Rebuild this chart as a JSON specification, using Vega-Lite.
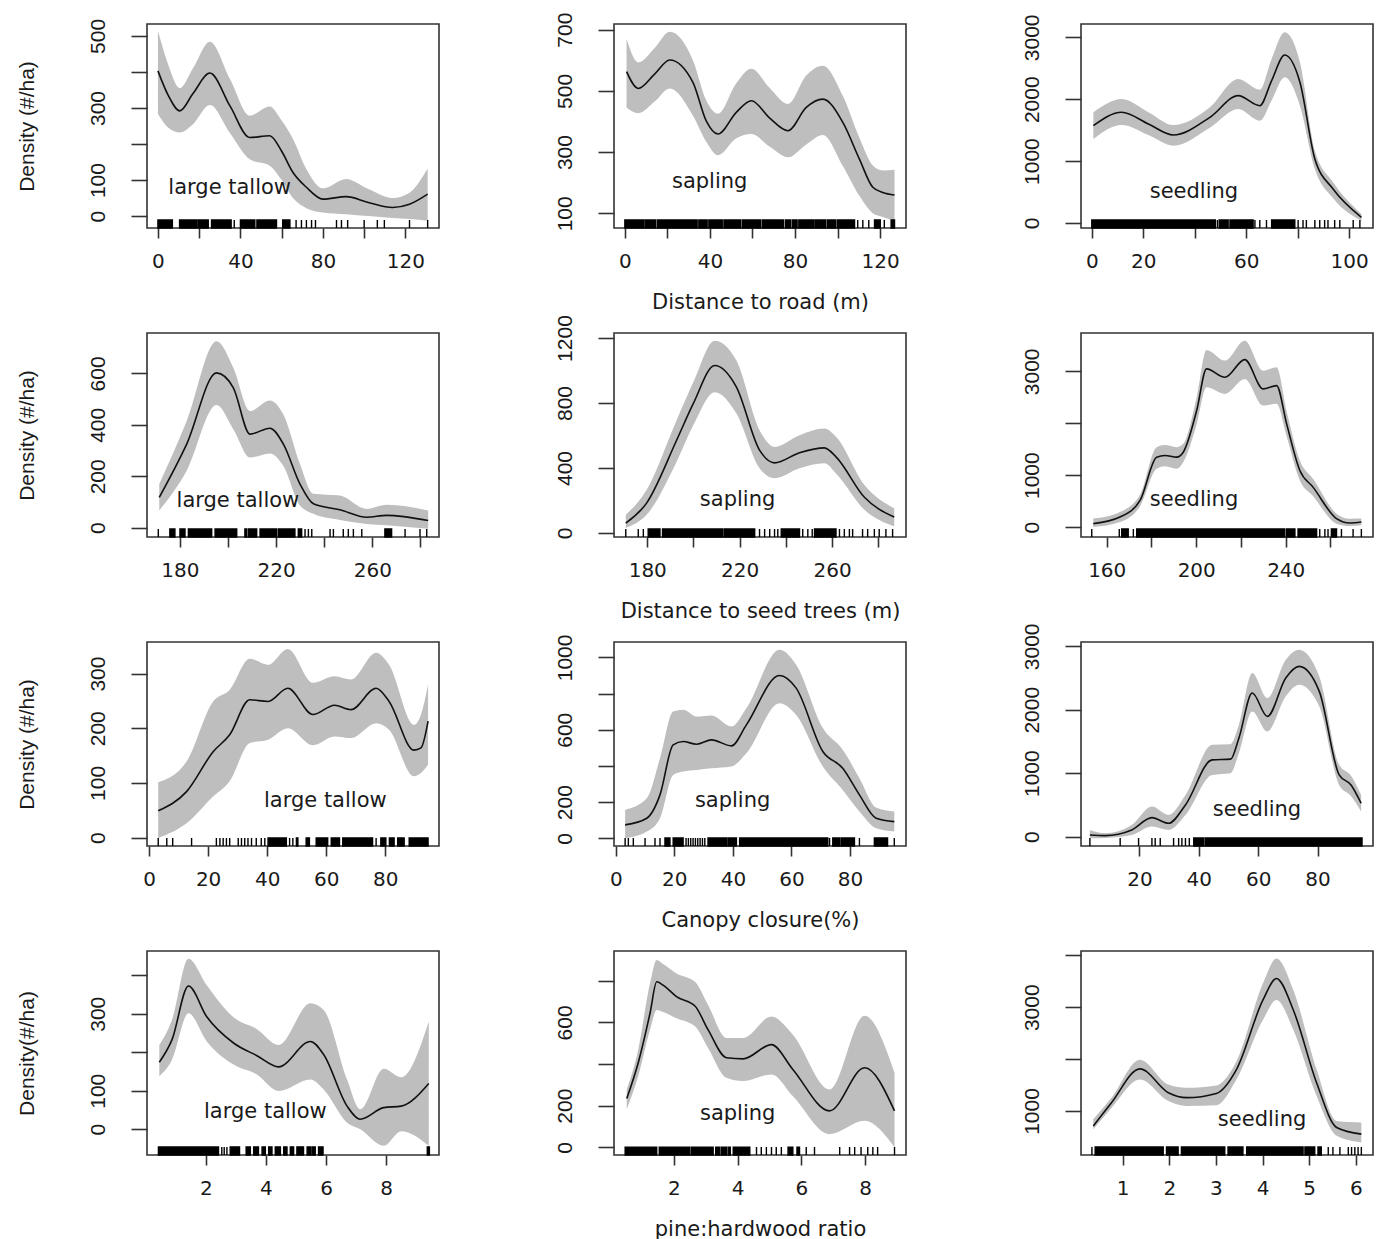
{
"$schema": "https://vega.github.io/schema/vega-lite/v6.json",
"background": "white",
"padding": {"left": 15, "top": 11, "right": 5, "bottom": 0},
"columns": 3,
"spacing": {"row": 105, "column": 175},
"bounds": "flush",
"config": {
  "numberFormat": "d",
  "view": {"stroke": "#333333", "strokeWidth": 1.6},
  "axis": {"grid": false, "domain": false, "tickColor": "#333333", "tickWidth": 1.6, "labelColor": "#1a1a1a", "titleColor": "#1a1a1a", "labelOverlap": false, "labelFlush": false, "labelBound": false},
  "axisX": {"tickSize": 10, "labelFont": "DejaVu Sans", "labelFontSize": 20, "labelPadding": 13, "titleFont": "DejaVu Sans", "titleFontSize": 21, "titleFontWeight": "normal", "titlePadding": 20},
  "axisY": {"tickSize": 16, "labelFont": "Liberation Sans Narrow, Liberation Sans, sans-serif", "labelFontSize": 21, "labelAngle": 270, "labelAlign": "center", "labelBaseline": "bottom", "labelPadding": 23, "titleFont": "Liberation Sans Narrow, Liberation Sans, sans-serif", "titleFontSize": 21, "titleFontWeight": "normal", "titlePadding": 50}
},
"concat": [
{
 "width": 292, "height": 204,
 "data": {"values": [{"x":0,"f":403,"lo":283,"hi":514},{"x":5,"f":335,"lo":245,"hi":420},{"x":10.6,"f":292,"lo":232,"hi":355},{"x":17,"f":340,"lo":255,"hi":410},{"x":25.2,"f":397,"lo":308,"hi":484},{"x":35,"f":305,"lo":230,"hi":380},{"x":44.5,"f":218,"lo":158,"hi":279},{"x":54.2,"f":223,"lo":140,"hi":304},{"x":60,"f":180,"lo":100,"hi":265},{"x":65.5,"f":121,"lo":50,"hi":214},{"x":72,"f":80,"lo":22,"hi":130},{"x":80,"f":47,"lo":10,"hi":77},{"x":91.3,"f":54,"lo":5,"hi":103},{"x":102,"f":38,"lo":0,"hi":75},{"x":113.8,"f":24,"lo":-5,"hi":50},{"x":122,"f":33,"lo":-8,"hi":65},{"x":130.8,"f":61,"lo":-13,"hi":132}]},
 "layer": [
  {"mark": {"type": "area", "color": "#bebebe", "interpolate": "monotone", "clip": true},
   "encoding": {
    "x": {"field": "x", "type": "quantitative", "scale": {"domain": [-5.3, 136.3], "nice": false, "zero": false}, "axis": {"values": [0,20,40,60,80,100,120], "labelExpr": "indexof([0,40,80,120], datum.value) >= 0 ? datum.label : ''", "title": null}},
    "y": {"field": "lo", "type": "quantitative", "scale": {"domain": [-33, 533], "nice": false, "zero": false}, "axis": {"values": [0,100,200,300,400,500], "labelExpr": "indexof([0,100,300,500], datum.value) >= 0 ? datum.label : ''", "title": "Density (#/ha)"}},
    "y2": {"field": "hi"}}},
  {"mark": {"type": "line", "color": "#111111", "strokeWidth": 1.6, "interpolate": "monotone", "clip": true},
   "encoding": {"x": {"field": "x", "type": "quantitative"}, "y": {"field": "f", "type": "quantitative"}}},
  {"data": {"values": [{"a":0,"b":7},{"a":10.5,"b":19},{"a":19.6,"b":24.4},{"a":26,"b":35.5},{"a":37,"b":37},{"a":40,"b":47},{"a":48,"b":57.5},{"a":60.5,"b":64},{"a":67,"b":67},{"a":69.6,"b":69.6},{"a":72,"b":72},{"a":74.5,"b":74.5},{"a":76.4,"b":76.4},{"a":86.6,"b":86.6},{"a":89,"b":89},{"a":92,"b":92},{"a":100,"b":100},{"a":106.4,"b":106.4},{"a":109.8,"b":109.8},{"a":122,"b":122},{"a":130.8,"b":130.8}]},
   "mark": {"type": "rect", "color": "#000000", "stroke": "#000000", "strokeWidth": 1.4},
   "encoding": {"x": {"field": "a", "type": "quantitative"}, "x2": {"field": "b"}, "y": {"datum": -33}, "y2": {"datum": -11}}},
  {"data": {"values": [{}]}, "mark": {"type": "text", "font": "DejaVu Sans", "fontSize": 21, "color": "#1a1a1a"},
   "encoding": {"x": {"datum": 34.8}, "y": {"datum": 78}, "text": {"value": "large tallow"}}}
 ]
},
{
 "width": 292, "height": 204,
 "data": {"values": [{"x":0.8,"f":563,"lo":446,"hi":670},{"x":6.3,"f":508,"lo":427,"hi":593},{"x":14,"f":555,"lo":465,"hi":640},{"x":21.1,"f":601,"lo":508,"hi":693},{"x":32,"f":528,"lo":420,"hi":600},{"x":38.2,"f":403,"lo":335,"hi":470},{"x":43.8,"f":359,"lo":290,"hi":425},{"x":52.4,"f":430,"lo":345,"hi":525},{"x":59.5,"f":468,"lo":359,"hi":572},{"x":68,"f":412,"lo":318,"hi":510},{"x":76.7,"f":370,"lo":283,"hi":457},{"x":85.3,"f":446,"lo":325,"hi":550},{"x":93.1,"f":473,"lo":356,"hi":582},{"x":102.5,"f":397,"lo":255,"hi":484},{"x":110.3,"f":277,"lo":157,"hi":347},{"x":116.6,"f":185,"lo":100,"hi":256},{"x":121.3,"f":168,"lo":88,"hi":240},{"x":126.8,"f":160,"lo":76,"hi":242}]},
 "layer": [
  {"mark": {"type": "area", "color": "#bebebe", "interpolate": "monotone", "clip": true},
   "encoding": {
    "x": {"field": "x", "type": "quantitative", "scale": {"domain": [-5.1, 132.2], "nice": false, "zero": false}, "axis": {"values": [0,20,40,60,80,100,120], "labelExpr": "indexof([0,40,80,120], datum.value) >= 0 ? datum.label : ''", "title": "Distance to road (m)"}},
    "y": {"field": "lo", "type": "quantitative", "scale": {"domain": [52, 718.6], "nice": false, "zero": false}, "axis": {"values": [100,200,300,400,500,600,700], "labelExpr": "indexof([100,300,500,700], datum.value) >= 0 ? datum.label : ''", "title": null}},
    "y2": {"field": "hi"}}},
  {"mark": {"type": "line", "color": "#111111", "strokeWidth": 1.6, "interpolate": "monotone", "clip": true},
   "encoding": {"x": {"field": "x", "type": "quantitative"}, "y": {"field": "f", "type": "quantitative"}}},
  {"data": {"values": [{"a":0,"b":9},{"a":9.6,"b":14.5},{"a":15.3,"b":34},{"a":34.8,"b":38.7},{"a":39.5,"b":45.8},{"a":46.6,"b":54.4},{"a":55.2,"b":63.8},{"a":64.6,"b":74.6},{"a":75.5,"b":77.9},{"a":78.7,"b":81},{"a":81.8,"b":89},{"a":89.7,"b":94.3},{"a":95.1,"b":99},{"a":99.8,"b":108},{"a":109.5,"b":109.5},{"a":111.9,"b":111.9},{"a":114.7,"b":114.7},{"a":117.4,"b":120.1},{"a":122,"b":122},{"a":125.2,"b":126.8}]},
   "mark": {"type": "rect", "color": "#000000", "stroke": "#000000", "strokeWidth": 1.4},
   "encoding": {"x": {"field": "a", "type": "quantitative"}, "x2": {"field": "b"}, "y": {"datum": 52}, "y2": {"datum": 78}}},
  {"data": {"values": [{}]}, "mark": {"type": "text", "font": "DejaVu Sans", "fontSize": 21, "color": "#1a1a1a"},
   "encoding": {"x": {"datum": 39.9}, "y": {"datum": 202}, "text": {"value": "sapling"}}}
 ]
},
{
 "width": 292, "height": 204,
 "data": {"values": [{"x":0.6,"f":1572,"lo":1357,"hi":1788},{"x":11.6,"f":1788,"lo":1583,"hi":2003},{"x":22,"f":1600,"lo":1420,"hi":1790},{"x":31.7,"f":1422,"lo":1249,"hi":1583},{"x":45.9,"f":1707,"lo":1540,"hi":1870},{"x":56.9,"f":2057,"lo":1842,"hi":2326},{"x":65.3,"f":1895,"lo":1653,"hi":2153},{"x":69.9,"f":2300,"lo":1980,"hi":2650},{"x":75,"f":2714,"lo":2354,"hi":3081},{"x":80.9,"f":2273,"lo":1895,"hi":2596},{"x":86.7,"f":1034,"lo":872,"hi":1168},{"x":93.8,"f":549,"lo":399,"hi":657},{"x":104.8,"f":92,"lo":37,"hi":145}]},
 "layer": [
  {"mark": {"type": "area", "color": "#bebebe", "interpolate": "monotone", "clip": true},
   "encoding": {
    "x": {"field": "x", "type": "quantitative", "scale": {"domain": [-4.2, 109.3], "nice": false, "zero": false}, "axis": {"values": [0,20,40,60,80,100], "labelExpr": "indexof([0,20,60,100], datum.value) >= 0 ? datum.label : ''", "title": null}},
    "y": {"field": "lo", "type": "quantitative", "scale": {"domain": [-81, 3215], "nice": false, "zero": false}, "axis": {"values": [0,500,1000,1500,2000,2500,3000], "labelExpr": "indexof([0,1000,2000,3000], datum.value) >= 0 ? datum.label : ''", "title": null}},
    "y2": {"field": "hi"}}},
  {"mark": {"type": "line", "color": "#111111", "strokeWidth": 1.6, "interpolate": "monotone", "clip": true},
   "encoding": {"x": {"field": "x", "type": "quantitative"}, "y": {"field": "f", "type": "quantitative"}}},
  {"data": {"values": [{"a":0,"b":48},{"a":48.8,"b":48.8},{"a":49.5,"b":53},{"a":53.7,"b":62.7},{"a":63.4,"b":63.4},{"a":65.3,"b":65.3},{"a":67.9,"b":67.9},{"a":69.9,"b":78.9},{"a":80.2,"b":80.2},{"a":82.1,"b":82.1},{"a":83.4,"b":83.4},{"a":86.7,"b":86.7},{"a":88.6,"b":88.6},{"a":90.5,"b":90.5},{"a":91.8,"b":91.8},{"a":94.4,"b":94.4},{"a":96.4,"b":96.4},{"a":101.6,"b":101.6},{"a":104.2,"b":104.2}]},
   "mark": {"type": "rect", "color": "#000000", "stroke": "#000000", "strokeWidth": 1.4},
   "encoding": {"x": {"field": "a", "type": "quantitative"}, "x2": {"field": "b"}, "y": {"datum": -81}, "y2": {"datum": 48}}},
  {"data": {"values": [{}]}, "mark": {"type": "text", "font": "DejaVu Sans", "fontSize": 21, "color": "#1a1a1a"},
   "encoding": {"x": {"datum": 39.7}, "y": {"datum": 500}, "text": {"value": "seedling"}}}
 ]
},
{
 "width": 292, "height": 204,
 "data": {"values": [{"x":171.4,"f":118,"lo":67,"hi":170},{"x":182.8,"f":325,"lo":222,"hi":415},{"x":195.2,"f":602,"lo":477,"hi":725},{"x":202.2,"f":544,"lo":383,"hi":622},{"x":209.1,"f":364,"lo":273,"hi":454},{"x":217.4,"f":387,"lo":289,"hi":495},{"x":223,"f":325,"lo":240,"hi":440},{"x":229.9,"f":170,"lo":86,"hi":248},{"x":235.5,"f":93,"lo":54,"hi":132},{"x":246.5,"f":70,"lo":30,"hi":125},{"x":257.6,"f":41,"lo":15,"hi":73},{"x":265.9,"f":48,"lo":10,"hi":89},{"x":283.2,"f":28,"lo":-4,"hi":67}]},
 "layer": [
  {"mark": {"type": "area", "color": "#bebebe", "interpolate": "monotone", "clip": true},
   "encoding": {
    "x": {"field": "x", "type": "quantitative", "scale": {"domain": [166.3, 287.7], "nice": false, "zero": false}, "axis": {"values": [180,200,220,240,260,280], "labelExpr": "indexof([180,220,260], datum.value) >= 0 ? datum.label : ''", "title": null}},
    "y": {"field": "lo", "type": "quantitative", "scale": {"domain": [-36, 757], "nice": false, "zero": false}, "axis": {"values": [0,200,400,600], "title": "Density (#/ha)"}},
    "y2": {"field": "hi"}}},
  {"mark": {"type": "line", "color": "#111111", "strokeWidth": 1.6, "interpolate": "monotone", "clip": true},
   "encoding": {"x": {"field": "x", "type": "quantitative"}, "y": {"field": "f", "type": "quantitative"}}},
  {"data": {"values": [{"a":171,"b":171},{"a":175.8,"b":177.9},{"a":180,"b":182.1},{"a":183.5,"b":193.2},{"a":194.6,"b":203.6},{"a":207,"b":207.7},{"a":208.4,"b":211.9},{"a":213.3,"b":220.2},{"a":220.9,"b":227.8},{"a":229.2,"b":230.6},{"a":232,"b":232},{"a":233.4,"b":233.4},{"a":234.8,"b":234.8},{"a":242.4,"b":242.4},{"a":243.8,"b":243.8},{"a":247.9,"b":247.9},{"a":250,"b":250},{"a":252.1,"b":252.1},{"a":255.6,"b":255.6},{"a":265.2,"b":268},{"a":273.6,"b":273.6},{"a":279.8,"b":279.8},{"a":282.6,"b":282.6}]},
   "mark": {"type": "rect", "color": "#000000", "stroke": "#000000", "strokeWidth": 1.4},
   "encoding": {"x": {"field": "a", "type": "quantitative"}, "x2": {"field": "b"}, "y": {"datum": -36}, "y2": {"datum": -5}}},
  {"data": {"values": [{}]}, "mark": {"type": "text", "font": "DejaVu Sans", "fontSize": 21, "color": "#1a1a1a"},
   "encoding": {"x": {"datum": 204.1}, "y": {"datum": 102}, "text": {"value": "large tallow"}}}
 ]
},
{
 "width": 292, "height": 204,
 "data": {"values": [{"x":170.7,"f":61,"lo":31,"hi":112},{"x":179.7,"f":184,"lo":112,"hi":265},{"x":192.7,"f":571,"lo":438,"hi":694},{"x":199.9,"f":796,"lo":663,"hi":928},{"x":209.2,"f":1031,"lo":867,"hi":1184},{"x":218.6,"f":898,"lo":735,"hi":1061},{"x":228.6,"f":510,"lo":398,"hi":633},{"x":235.1,"f":432,"lo":337,"hi":530},{"x":245.9,"f":494,"lo":398,"hi":602},{"x":256.7,"f":524,"lo":429,"hi":643},{"x":261.7,"f":469,"lo":367,"hi":592},{"x":274,"f":220,"lo":143,"hi":296},{"x":286.9,"f":98,"lo":41,"hi":153}]},
 "layer": [
  {"mark": {"type": "area", "color": "#bebebe", "interpolate": "monotone", "clip": true},
   "encoding": {
    "x": {"field": "x", "type": "quantitative", "scale": {"domain": [165.6, 292], "nice": false, "zero": false}, "axis": {"values": [180,200,220,240,260,280], "labelExpr": "indexof([180,220,260], datum.value) >= 0 ? datum.label : ''", "title": "Distance to seed trees (m)"}},
    "y": {"field": "lo", "type": "quantitative", "scale": {"domain": [-24.5, 1231], "nice": false, "zero": false}, "axis": {"values": [0,200,400,600,800,1000,1200], "labelExpr": "indexof([0,400,800,1200], datum.value) >= 0 ? datum.label : ''", "title": null}},
    "y2": {"field": "hi"}}},
  {"mark": {"type": "line", "color": "#111111", "strokeWidth": 1.6, "interpolate": "monotone", "clip": true},
   "encoding": {"x": {"field": "x", "type": "quantitative"}, "y": {"field": "f", "type": "quantitative"}}},
  {"data": {"values": [{"a":170.7,"b":170.7},{"a":176.1,"b":176.1},{"a":178.3,"b":178.3},{"a":180.4,"b":185.5},{"a":186.6,"b":212.8},{"a":213.5,"b":226.5},{"a":228.6,"b":228.6},{"a":230.8,"b":230.8},{"a":233,"b":233},{"a":235.1,"b":235.1},{"a":236.5,"b":236.5},{"a":238,"b":245.9},{"a":247.3,"b":247.3},{"a":249.5,"b":249.5},{"a":251.4,"b":251.4},{"a":252.4,"b":261.7},{"a":263.2,"b":263.2},{"a":265.3,"b":265.3},{"a":267.5,"b":267.5},{"a":268.9,"b":268.9},{"a":273.2,"b":273.2},{"a":275.4,"b":275.4},{"a":278.3,"b":278.3},{"a":280.4,"b":280.4},{"a":283.3,"b":283.3},{"a":286.2,"b":286.2}]},
   "mark": {"type": "rect", "color": "#000000", "stroke": "#000000", "strokeWidth": 1.4},
   "encoding": {"x": {"field": "a", "type": "quantitative"}, "x2": {"field": "b"}, "y": {"datum": -24.5}, "y2": {"datum": 24.5}}},
  {"data": {"values": [{}]}, "mark": {"type": "text", "font": "DejaVu Sans", "fontSize": 21, "color": "#1a1a1a"},
   "encoding": {"x": {"datum": 219.1}, "y": {"datum": 204}, "text": {"value": "sapling"}}}
 ]
},
{
 "width": 292, "height": 204,
 "data": {"values": [{"x":154,"f":65,"lo":0,"hi":162},{"x":165.9,"f":192,"lo":96,"hi":288},{"x":174.9,"f":513,"lo":400,"hi":620},{"x":182.3,"f":1346,"lo":1122,"hi":1538},{"x":186,"f":1379,"lo":1170,"hi":1580},{"x":191.2,"f":1346,"lo":1122,"hi":1538},{"x":194.2,"f":1442,"lo":1250,"hi":1604},{"x":200.2,"f":2244,"lo":1980,"hi":2500},{"x":204.6,"f":3046,"lo":2692,"hi":3411},{"x":212.8,"f":2885,"lo":2565,"hi":3206},{"x":221.7,"f":3225,"lo":2853,"hi":3590},{"x":229.9,"f":2661,"lo":2340,"hi":3013},{"x":235.9,"f":2725,"lo":2373,"hi":3077},{"x":240.4,"f":1988,"lo":1750,"hi":2230},{"x":246.3,"f":1090,"lo":898,"hi":1283},{"x":252.2,"f":769,"lo":600,"hi":930},{"x":262.7,"f":162,"lo":65,"hi":258},{"x":268.6,"f":77,"lo":20,"hi":160},{"x":273.8,"f":96,"lo":33,"hi":162}]},
 "layer": [
  {"mark": {"type": "area", "color": "#bebebe", "interpolate": "monotone", "clip": true},
   "encoding": {
    "x": {"field": "x", "type": "quantitative", "scale": {"domain": [148.5, 279], "nice": false, "zero": false}, "axis": {"values": [160,180,200,220,240,260], "labelExpr": "indexof([160,200,240], datum.value) >= 0 ? datum.label : ''", "title": null}},
    "y": {"field": "lo", "type": "quantitative", "scale": {"domain": [-192, 3738], "nice": false, "zero": false}, "axis": {"values": [0,1000,2000,3000], "labelExpr": "indexof([0,1000,3000], datum.value) >= 0 ? datum.label : ''", "title": null}},
    "y2": {"field": "hi"}}},
  {"mark": {"type": "line", "color": "#111111", "strokeWidth": 1.6, "interpolate": "monotone", "clip": true},
   "encoding": {"x": {"field": "x", "type": "quantitative"}, "y": {"field": "f", "type": "quantitative"}}},
  {"data": {"values": [{"a":153.3,"b":153.3},{"a":165.6,"b":165.6},{"a":166.7,"b":169.6},{"a":171.9,"b":171.9},{"a":173.4,"b":239.6},{"a":240.4,"b":244.1},{"a":245.5,"b":253.8},{"a":255.2,"b":255.2},{"a":257.5,"b":257.5},{"a":258.9,"b":258.9},{"a":260.4,"b":262.7},{"a":264.9,"b":264.9},{"a":270.1,"b":270.1},{"a":273.8,"b":273.8}]},
   "mark": {"type": "rect", "color": "#000000", "stroke": "#000000", "strokeWidth": 1.4},
   "encoding": {"x": {"field": "a", "type": "quantitative"}, "x2": {"field": "b"}, "y": {"datum": -192}, "y2": {"datum": -38}}},
  {"data": {"values": [{}]}, "mark": {"type": "text", "font": "DejaVu Sans", "fontSize": 21, "color": "#1a1a1a"},
   "encoding": {"x": {"datum": 199}, "y": {"datum": 513}, "text": {"value": "seedling"}}}
 ]
},
{
 "width": 292, "height": 204,
 "data": {"values": [{"x":3.1,"f":49,"lo":-1,"hi":101},{"x":12.7,"f":84,"lo":26,"hi":139},{"x":21.7,"f":157,"lo":75,"hi":249},{"x":27.3,"f":188,"lo":103,"hi":270},{"x":34.1,"f":252,"lo":173,"hi":327},{"x":40.3,"f":249,"lo":179,"hi":316},{"x":47,"f":273,"lo":200,"hi":345},{"x":55.5,"f":225,"lo":169,"hi":283},{"x":62.8,"f":242,"lo":185,"hi":295},{"x":68.4,"f":234,"lo":182,"hi":289},{"x":76.9,"f":273,"lo":209,"hi":338},{"x":81.3,"f":249,"lo":197,"hi":316},{"x":89.7,"f":160,"lo":112,"hi":206},{"x":92.1,"f":164,"lo":118,"hi":225},{"x":94.5,"f":213,"lo":133,"hi":280}]},
 "layer": [
  {"mark": {"type": "area", "color": "#bebebe", "interpolate": "monotone", "clip": true},
   "encoding": {
    "x": {"field": "x", "type": "quantitative", "scale": {"domain": [-0.7, 98.2], "nice": false, "zero": false}, "axis": {"values": [0,20,40,60,80], "title": null}},
    "y": {"field": "lo", "type": "quantitative", "scale": {"domain": [-15.4, 357.7], "nice": false, "zero": false}, "axis": {"values": [0,50,100,150,200,250,300,350], "labelExpr": "indexof([0,100,200,300], datum.value) >= 0 ? datum.label : ''", "title": "Density (#/ha)"}},
    "y2": {"field": "hi"}}},
  {"mark": {"type": "line", "color": "#111111", "strokeWidth": 1.6, "interpolate": "monotone", "clip": true},
   "encoding": {"x": {"field": "x", "type": "quantitative"}, "y": {"field": "f", "type": "quantitative"}}},
  {"data": {"values": [{"a":3.1,"b":3.1},{"a":6,"b":6},{"a":8,"b":8},{"a":14.4,"b":14.4},{"a":22.8,"b":22.8},{"a":24,"b":24},{"a":25.1,"b":25.1},{"a":26.2,"b":26.2},{"a":27.3,"b":27.3},{"a":30.2,"b":30.2},{"a":31.3,"b":31.3},{"a":32.4,"b":32.4},{"a":33.5,"b":33.5},{"a":34.7,"b":34.7},{"a":36.3,"b":36.3},{"a":38,"b":38},{"a":39.2,"b":39.2},{"a":40.3,"b":46.5},{"a":47.6,"b":47.6},{"a":48.7,"b":48.7},{"a":49.9,"b":50.4},{"a":53.2,"b":54.3},{"a":56.6,"b":60.5},{"a":61.7,"b":64.5},{"a":65.6,"b":75.7},{"a":76.9,"b":76.9},{"a":78.5,"b":80.2},{"a":81.4,"b":83},{"a":84.2,"b":86.4},{"a":88.1,"b":94.5}]},
   "mark": {"type": "rect", "color": "#000000", "stroke": "#000000", "strokeWidth": 1.4},
   "encoding": {"x": {"field": "a", "type": "quantitative"}, "x2": {"field": "b"}, "y": {"datum": -15.4}, "y2": {"datum": -0.7}}},
  {"data": {"values": [{}]}, "mark": {"type": "text", "font": "DejaVu Sans", "fontSize": 21, "color": "#1a1a1a"},
   "encoding": {"x": {"datum": 59.7}, "y": {"datum": 66}, "text": {"value": "large tallow"}}}
 ]
},
{
 "width": 292, "height": 204,
 "data": {"values": [{"x":3.2,"f":74,"lo":0,"hi":157},{"x":10.6,"f":111,"lo":37,"hi":221},{"x":15.1,"f":240,"lo":111,"hi":443},{"x":19.6,"f":516,"lo":350,"hi":701},{"x":23,"f":535,"lo":369,"hi":710},{"x":27.6,"f":520,"lo":378,"hi":673},{"x":32.7,"f":544,"lo":387,"hi":679},{"x":39.5,"f":511,"lo":397,"hi":618},{"x":44.6,"f":627,"lo":470,"hi":719},{"x":55.9,"f":900,"lo":747,"hi":1042},{"x":61.6,"f":830,"lo":682,"hi":959},{"x":70.7,"f":480,"lo":397,"hi":609},{"x":77.5,"f":387,"lo":267,"hi":489},{"x":83.2,"f":240,"lo":148,"hi":332},{"x":88.9,"f":111,"lo":55,"hi":170},{"x":95.1,"f":92,"lo":37,"hi":148}]},
 "layer": [
  {"mark": {"type": "area", "color": "#bebebe", "interpolate": "monotone", "clip": true},
   "encoding": {
    "x": {"field": "x", "type": "quantitative", "scale": {"domain": [-0.6, 99.1], "nice": false, "zero": false}, "axis": {"values": [0,20,40,60,80], "title": "Canopy closure(%)"}},
    "y": {"field": "lo", "type": "quantitative", "scale": {"domain": [-42.6, 1085], "nice": false, "zero": false}, "axis": {"values": [0,200,400,600,800,1000], "labelExpr": "indexof([0,200,600,1000], datum.value) >= 0 ? datum.label : ''", "title": null}},
    "y2": {"field": "hi"}}},
  {"mark": {"type": "line", "color": "#111111", "strokeWidth": 1.6, "interpolate": "monotone", "clip": true},
   "encoding": {"x": {"field": "x", "type": "quantitative"}, "y": {"field": "f", "type": "quantitative"}}},
  {"data": {"values": [{"a":3.2,"b":3.2},{"a":4.3,"b":4.3},{"a":6,"b":6},{"a":10,"b":10},{"a":13.4,"b":13.4},{"a":15.1,"b":15.1},{"a":16.8,"b":18.5},{"a":19.6,"b":23},{"a":24,"b":24},{"a":24.8,"b":24.8},{"a":25.6,"b":25.6},{"a":26.4,"b":26.4},{"a":27.2,"b":27.2},{"a":28,"b":28},{"a":28.8,"b":28.8},{"a":29.6,"b":29.6},{"a":30.4,"b":30.4},{"a":31.5,"b":37.8},{"a":38.3,"b":41.2},{"a":42.3,"b":72.4},{"a":73,"b":73},{"a":74.1,"b":76.4},{"a":76.9,"b":81.5},{"a":83.2,"b":83.2},{"a":88.3,"b":92.8},{"a":95.1,"b":95.1}]},
   "mark": {"type": "rect", "color": "#000000", "stroke": "#000000", "strokeWidth": 1.4},
   "encoding": {"x": {"field": "a", "type": "quantitative"}, "x2": {"field": "b"}, "y": {"datum": -42.6}, "y2": {"datum": 1.4}}},
  {"data": {"values": [{}]}, "mark": {"type": "text", "font": "DejaVu Sans", "fontSize": 21, "color": "#1a1a1a"},
   "encoding": {"x": {"datum": 39.9}, "y": {"datum": 205}, "text": {"value": "sapling"}}}
 ]
},
{
 "width": 292, "height": 204,
 "data": {"values": [{"x":3.3,"f":25,"lo":-27,"hi":105},{"x":8.4,"f":16,"lo":-20,"hi":52},{"x":17.4,"f":105,"lo":25,"hi":183},{"x":24.2,"f":300,"lo":158,"hi":474},{"x":29.8,"f":210,"lo":105,"hi":341},{"x":35.5,"f":500,"lo":341,"hi":657},{"x":44.5,"f":1210,"lo":973,"hi":1447},{"x":50.7,"f":1221,"lo":1000,"hi":1458},{"x":53.5,"f":1552,"lo":1315,"hi":1763},{"x":58,"f":2263,"lo":1974,"hi":2579},{"x":63.1,"f":1895,"lo":1658,"hi":2184},{"x":69.3,"f":2500,"lo":2211,"hi":2789},{"x":73.8,"f":2684,"lo":2394,"hi":2947},{"x":80.6,"f":2290,"lo":2053,"hi":2526},{"x":87.3,"f":973,"lo":815,"hi":1131},{"x":91.3,"f":815,"lo":640,"hi":960},{"x":94.7,"f":526,"lo":395,"hi":657}]},
 "layer": [
  {"mark": {"type": "area", "color": "#bebebe", "interpolate": "monotone", "clip": true},
   "encoding": {
    "x": {"field": "x", "type": "quantitative", "scale": {"domain": [0.3, 98.7], "nice": false, "zero": false}, "axis": {"values": [20,40,60,80], "title": null}},
    "y": {"field": "lo", "type": "quantitative", "scale": {"domain": [-148, 3068], "nice": false, "zero": false}, "axis": {"values": [0,500,1000,1500,2000,2500,3000], "labelExpr": "indexof([0,1000,2000,3000], datum.value) >= 0 ? datum.label : ''", "title": null}},
    "y2": {"field": "hi"}}},
  {"mark": {"type": "line", "color": "#111111", "strokeWidth": 1.6, "interpolate": "monotone", "clip": true},
   "encoding": {"x": {"field": "x", "type": "quantitative"}, "y": {"field": "f", "type": "quantitative"}}},
  {"data": {"values": [{"a":3.3,"b":3.3},{"a":13.5,"b":13.5},{"a":19.7,"b":19.7},{"a":24.2,"b":24.2},{"a":25.3,"b":25.3},{"a":27,"b":27},{"a":31.5,"b":31.5},{"a":33.2,"b":33.2},{"a":34.3,"b":34.3},{"a":35.5,"b":35.5},{"a":36.8,"b":36.8},{"a":38.3,"b":41.7},{"a":42.2,"b":95}]},
   "mark": {"type": "rect", "color": "#000000", "stroke": "#000000", "strokeWidth": 1.4},
   "encoding": {"x": {"field": "a", "type": "quantitative"}, "x2": {"field": "b"}, "y": {"datum": -148}, "y2": {"datum": -22}}},
  {"data": {"values": [{}]}, "mark": {"type": "text", "font": "DejaVu Sans", "fontSize": 21, "color": "#1a1a1a"},
   "encoding": {"x": {"datum": 59.6}, "y": {"datum": 415}, "text": {"value": "seedling"}}}
 ]
},
{
 "width": 292, "height": 204,
 "data": {"values": [{"x":0.45,"f":174,"lo":138,"hi":219},{"x":0.87,"f":232,"lo":180,"hi":284},{"x":1.42,"f":372,"lo":301,"hi":443},{"x":2.03,"f":292,"lo":228,"hi":374},{"x":2.92,"f":224,"lo":168,"hi":291},{"x":3.7,"f":191,"lo":142,"hi":260},{"x":4.42,"f":162,"lo":99,"hi":219},{"x":5.48,"f":228,"lo":129,"hi":327},{"x":5.92,"f":194,"lo":103,"hi":310},{"x":6.7,"f":60,"lo":17,"hi":129},{"x":7.14,"f":26,"lo":0,"hi":52},{"x":7.92,"f":56,"lo":-43,"hi":157},{"x":8.5,"f":60,"lo":-5,"hi":135},{"x":9.42,"f":119,"lo":-43,"hi":280}]},
 "layer": [
  {"mark": {"type": "area", "color": "#bebebe", "interpolate": "monotone", "clip": true},
   "encoding": {
    "x": {"field": "x", "type": "quantitative", "scale": {"domain": [0.04, 9.76], "nice": false, "zero": false}, "axis": {"values": [2,4,6,8], "title": null}},
    "y": {"field": "lo", "type": "quantitative", "scale": {"domain": [-67, 463], "nice": false, "zero": false}, "axis": {"values": [0,100,200,300,400], "labelExpr": "indexof([0,100,300], datum.value) >= 0 ? datum.label : ''", "title": "Density(#/ha)"}},
    "y2": {"field": "hi"}}},
  {"mark": {"type": "line", "color": "#111111", "strokeWidth": 1.6, "interpolate": "monotone", "clip": true},
   "encoding": {"x": {"field": "x", "type": "quantitative"}, "y": {"field": "f", "type": "quantitative"}}},
  {"data": {"values": [{"a":0.42,"b":2.42},{"a":2.53,"b":2.53},{"a":2.61,"b":2.61},{"a":2.7,"b":2.7},{"a":2.81,"b":3.12},{"a":3.34,"b":3.48},{"a":3.59,"b":3.75},{"a":3.87,"b":3.98},{"a":4.09,"b":4.2},{"a":4.31,"b":4.48},{"a":4.59,"b":4.7},{"a":4.81,"b":4.92},{"a":5.03,"b":5.25},{"a":5.37,"b":5.48},{"a":5.53,"b":5.64},{"a":5.75,"b":5.9},{"a":9.37,"b":9.44}]},
   "mark": {"type": "rect", "color": "#000000", "stroke": "#000000", "strokeWidth": 1.4},
   "encoding": {"x": {"field": "a", "type": "quantitative"}, "x2": {"field": "b"}, "y": {"datum": -67}, "y2": {"datum": -46}}},
  {"data": {"values": [{}]}, "mark": {"type": "text", "font": "DejaVu Sans", "fontSize": 21, "color": "#1a1a1a"},
   "encoding": {"x": {"datum": 3.98}, "y": {"datum": 44}, "text": {"value": "large tallow"}}}
 ]
},
{
 "width": 292, "height": 204,
 "data": {"values": [{"x":0.52,"f":234,"lo":183,"hi":278},{"x":0.88,"f":406,"lo":342,"hi":469},{"x":1.25,"f":644,"lo":565,"hi":788},{"x":1.46,"f":795,"lo":660,"hi":900},{"x":1.66,"f":779,"lo":650,"hi":880},{"x":2.08,"f":724,"lo":620,"hi":835},{"x":2.66,"f":679,"lo":581,"hi":795},{"x":3.07,"f":565,"lo":477,"hi":684},{"x":3.65,"f":430,"lo":334,"hi":525},{"x":4.17,"f":425,"lo":318,"hi":525},{"x":5.06,"f":493,"lo":350,"hi":628},{"x":5.73,"f":374,"lo":246,"hi":541},{"x":6.88,"f":175,"lo":63,"hi":278},{"x":7.98,"f":382,"lo":127,"hi":632},{"x":8.92,"f":175,"lo":0,"hi":358}]},
 "layer": [
  {"mark": {"type": "area", "color": "#bebebe", "interpolate": "monotone", "clip": true},
   "encoding": {
    "x": {"field": "x", "type": "quantitative", "scale": {"domain": [0.12, 9.28], "nice": false, "zero": false}, "axis": {"values": [2,4,6,8], "title": "pine:hardwood ratio"}},
    "y": {"field": "lo", "type": "quantitative", "scale": {"domain": [-37, 943], "nice": false, "zero": false}, "axis": {"values": [0,200,400,600,800], "labelExpr": "indexof([0,200,600], datum.value) >= 0 ? datum.label : ''", "title": null}},
    "y2": {"field": "hi"}}},
  {"mark": {"type": "line", "color": "#111111", "strokeWidth": 1.6, "interpolate": "monotone", "clip": true},
   "encoding": {"x": {"field": "x", "type": "quantitative"}, "y": {"field": "f", "type": "quantitative"}}},
  {"data": {"values": [{"a":0.47,"b":1.46},{"a":1.54,"b":2.5},{"a":2.55,"b":3.23},{"a":3.31,"b":3.44},{"a":3.49,"b":3.65},{"a":3.7,"b":3.77},{"a":3.86,"b":4.38},{"a":4.59,"b":4.59},{"a":4.74,"b":4.74},{"a":4.9,"b":4.9},{"a":5.06,"b":5.06},{"a":5.21,"b":5.21},{"a":5.37,"b":5.37},{"a":5.58,"b":5.73},{"a":5.86,"b":5.94},{"a":6.15,"b":6.15},{"a":6.41,"b":6.41},{"a":7.2,"b":7.2},{"a":7.51,"b":7.51},{"a":7.67,"b":7.67},{"a":7.87,"b":7.87},{"a":8.08,"b":8.08},{"a":8.24,"b":8.24},{"a":8.39,"b":8.39},{"a":8.92,"b":8.92}]},
   "mark": {"type": "rect", "color": "#000000", "stroke": "#000000", "strokeWidth": 1.4},
   "encoding": {"x": {"field": "a", "type": "quantitative"}, "x2": {"field": "b"}, "y": {"datum": -37}, "y2": {"datum": 1}}},
  {"data": {"values": [{}]}, "mark": {"type": "text", "font": "DejaVu Sans", "fontSize": 21, "color": "#1a1a1a"},
   "encoding": {"x": {"datum": 4.0}, "y": {"datum": 159}, "text": {"value": "sapling"}}}
 ]
},
{
 "width": 292, "height": 204,
 "data": {"values": [{"x":0.37,"f":713,"lo":649,"hi":841},{"x":0.76,"f":1161,"lo":1060,"hi":1257},{"x":1.37,"f":1812,"lo":1607,"hi":1990},{"x":1.98,"f":1352,"lo":1192,"hi":1511},{"x":2.37,"f":1257,"lo":1096,"hi":1448},{"x":3.01,"f":1339,"lo":1109,"hi":1492},{"x":3.44,"f":1799,"lo":1607,"hi":1958},{"x":4.01,"f":3140,"lo":2757,"hi":3460},{"x":4.3,"f":3555,"lo":3140,"hi":3939},{"x":4.66,"f":2948,"lo":2565,"hi":3331},{"x":5.16,"f":1544,"lo":1287,"hi":1799},{"x":5.59,"f":682,"lo":521,"hi":808},{"x":6.12,"f":554,"lo":394,"hi":778}]},
 "layer": [
  {"mark": {"type": "area", "color": "#bebebe", "interpolate": "monotone", "clip": true},
   "encoding": {
    "x": {"field": "x", "type": "quantitative", "scale": {"domain": [0.106, 6.37], "nice": false, "zero": false}, "axis": {"values": [1,2,3,4,5,6], "title": null}},
    "y": {"field": "lo", "type": "quantitative", "scale": {"domain": [152, 4084], "nice": false, "zero": false}, "axis": {"values": [1000,2000,3000,4000], "labelExpr": "indexof([1000,3000], datum.value) >= 0 ? datum.label : ''", "title": null}},
    "y2": {"field": "hi"}}},
  {"mark": {"type": "line", "color": "#111111", "strokeWidth": 1.6, "interpolate": "monotone", "clip": true},
   "encoding": {"x": {"field": "x", "type": "quantitative"}, "y": {"field": "f", "type": "quantitative"}}},
  {"data": {"values": [{"a":0.34,"b":0.34},{"a":0.41,"b":1.87},{"a":1.94,"b":2.19},{"a":2.26,"b":3.19},{"a":3.26,"b":3.58},{"a":3.66,"b":4.87},{"a":4.91,"b":5.12},{"a":5.19,"b":5.26},{"a":5.41,"b":5.41},{"a":5.51,"b":5.51},{"a":5.66,"b":5.66},{"a":5.84,"b":5.84},{"a":5.91,"b":5.91},{"a":5.98,"b":5.98},{"a":6.05,"b":6.05},{"a":6.12,"b":6.12}]},
   "mark": {"type": "rect", "color": "#000000", "stroke": "#000000", "strokeWidth": 1.4},
   "encoding": {"x": {"field": "a", "type": "quantitative"}, "x2": {"field": "b"}, "y": {"datum": 152}, "y2": {"datum": 305}}},
  {"data": {"values": [{}]}, "mark": {"type": "text", "font": "DejaVu Sans", "fontSize": 21, "color": "#1a1a1a"},
   "encoding": {"x": {"datum": 3.99}, "y": {"datum": 822}, "text": {"value": "seedling"}}}
 ]
}
]
}
